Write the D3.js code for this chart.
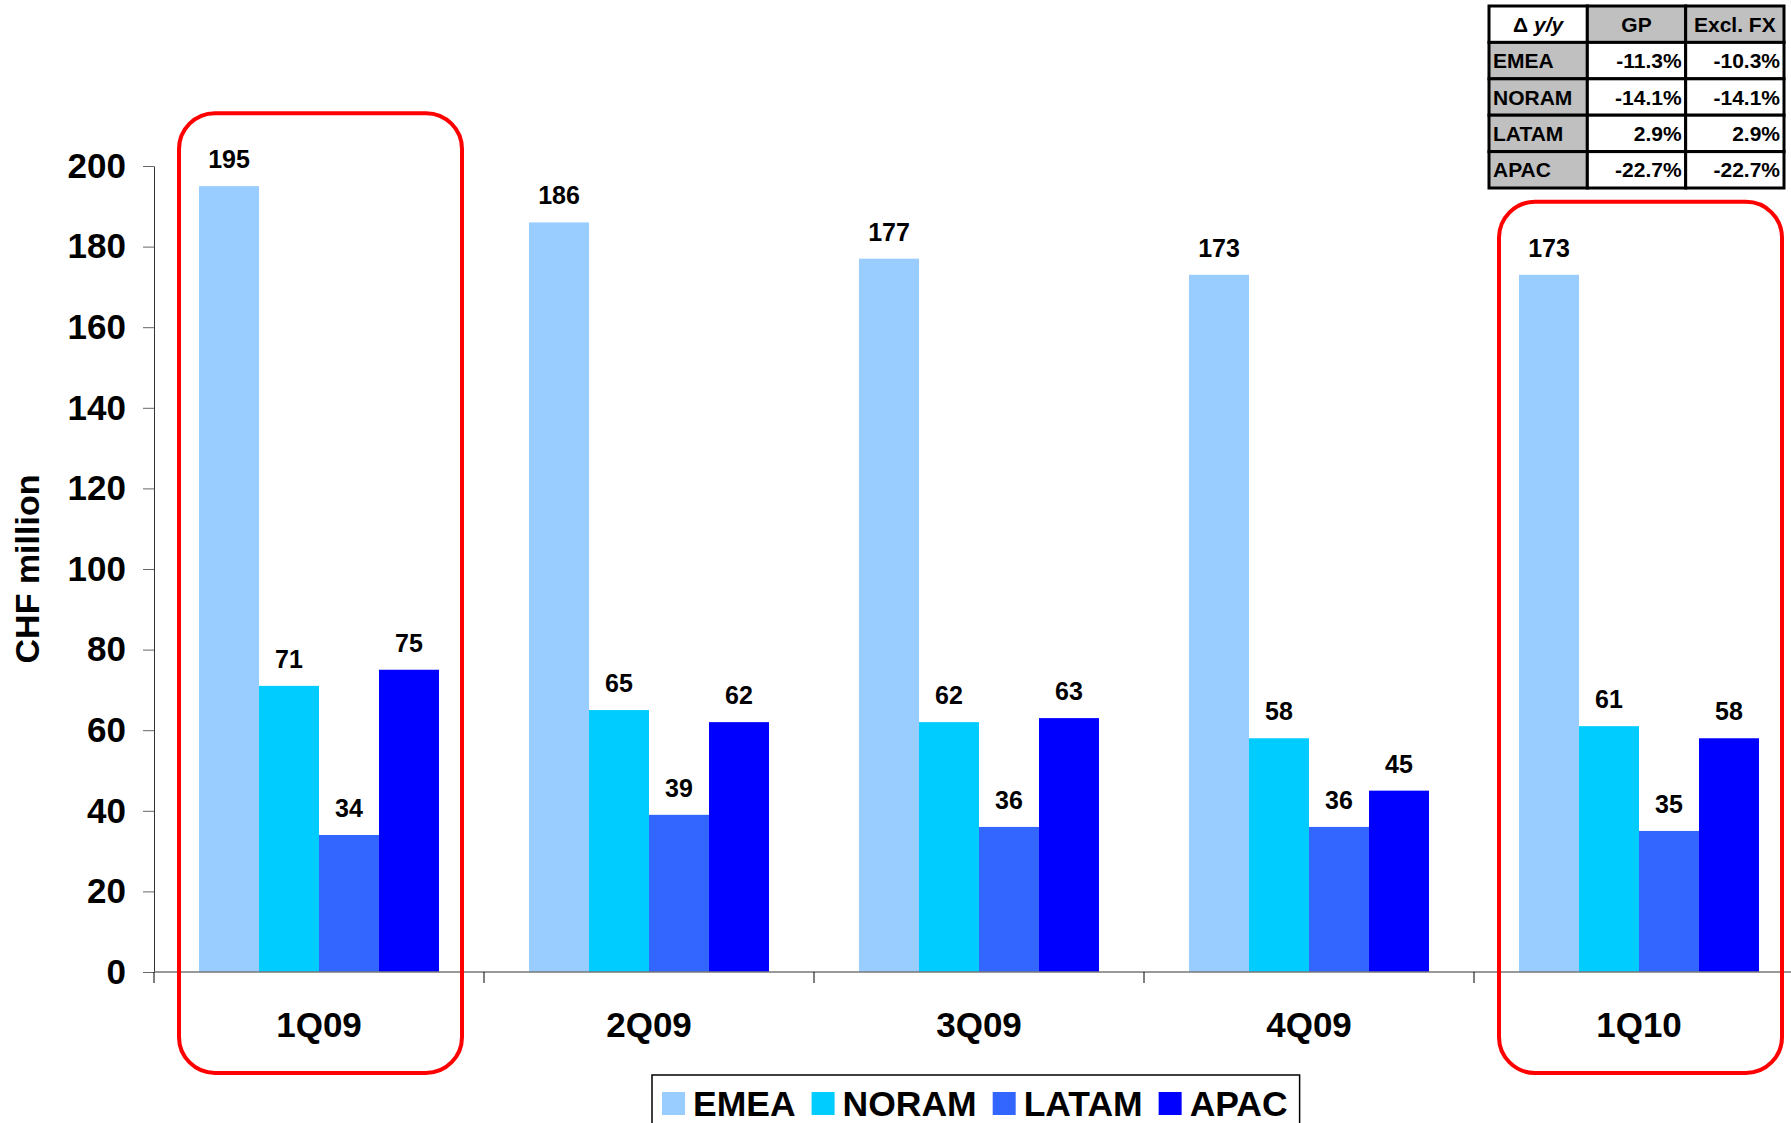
<!DOCTYPE html>
<html>
<head>
<meta charset="utf-8">
<script src="https://cdn.jsdelivr.net/npm/d3@7"></script>
<style>
  body { margin: 0; background: #fff; }
  svg { display: block; font-family: "Liberation Sans", Arial, sans-serif; font-weight: bold; }
</style>
</head>
<body>
<script>
// data
var quarters = ["1Q09", "2Q09", "3Q09", "4Q09", "1Q10"];
var regions = ["EMEA", "NORAM", "LATAM", "APAC"];
var emea  = [195, 186, 177, 173, 173];
var noram = [71, 65, 62, 58, 61];
var latam = [34, 39, 36, 36, 35];
var apac  = [75, 62, 63, 45, 58];
var yTicks = [0, 20, 40, 60, 80, 100, 120, 140, 160, 180, 200];
var highlighted = ["1Q09", "1Q10"];

// table of y/y changes
var tableHead = ["Δ", "GP", "Excl. FX"];
var gpChange = ["-11.3%", "-14.1%", "2.9%", "-22.7%"];
var exclFxChange = ["-10.3%", "-14.1%", "2.9%", "-22.7%"];

var colors = {EMEA: "#99ccff", NORAM: "#00ccff", LATAM: "#3366ff", APAC: "#0000ff"};
var seriesValues = {EMEA: emea, NORAM: noram, LATAM: latam, APAC: apac};

var W = 1791, H = 1123;
var svg = d3.select("body").append("svg")
    .attr("width", W)
    .attr("height", H);

// scales
var y = d3.scaleLinear().domain([0, 200]).range([972, 166]);
var x0 = d3.scaleBand().domain(quarters).range([154, 1804]).padding(0);
var x1 = d3.scaleBand().domain(regions).range([0, x0.bandwidth()])
    .paddingInner(0).paddingOuter(0.75);

var rows = quarters.map(function(q, i) {
  return {q: q, values: regions.map(function(r) { return {r: r, v: seriesValues[r][i]}; })};
});

// bars
var groups = svg.append("g").selectAll("g")
    .data(rows)
  .enter().append("g")
    .attr("transform", function(d) { return "translate(" + x0(d.q) + ",0)"; });

groups.selectAll("rect")
    .data(function(d) { return d.values; })
  .enter().append("rect")
    .attr("x", function(d) { return x1(d.r); })
    .attr("y", function(d) { return y(d.v); })
    .attr("width", x1.bandwidth())
    .attr("height", function(d) { return y(0) - y(d.v); })
    .attr("fill", function(d) { return colors[d.r]; });

groups.selectAll("text")
    .data(function(d) { return d.values; })
  .enter().append("text")
    .attr("x", function(d) { return x1(d.r) + x1.bandwidth() / 2; })
    .attr("y", function(d) { return y(d.v) - 18; })
    .attr("text-anchor", "middle")
    .attr("font-size", 25)
    .text(function(d) { return d.v; });

// y axis
var yAxis = svg.append("g")
    .attr("transform", "translate(154,0)")
    .call(d3.axisLeft(y).tickValues(yTicks).tickSize(11).tickPadding(17).tickSizeOuter(0));
yAxis.select(".domain").attr("stroke", "#333");
yAxis.selectAll(".tick line").attr("stroke", "#666");
yAxis.selectAll("text")
    .attr("font-size", 35)
    .attr("font-family", "Liberation Sans, Arial, sans-serif")
    .attr("font-weight", "bold")
    .attr("fill", "#000");

// x axis line and category separators
svg.append("line")
    .attr("x1", 154).attr("x2", W)
    .attr("y1", y(0)).attr("y2", y(0))
    .attr("stroke", "#777").attr("stroke-width", 1.5);

svg.append("g").selectAll("line")
    .data(quarters)
  .enter().append("line")
    .attr("x1", function(d) { return x0(d); })
    .attr("x2", function(d) { return x0(d); })
    .attr("y1", y(0)).attr("y2", y(0) + 11)
    .attr("stroke", "#000");

svg.append("g").selectAll("text")
    .data(quarters)
  .enter().append("text")
    .attr("x", function(d) { return x0(d) + x0.bandwidth() / 2; })
    .attr("y", 1037)
    .attr("text-anchor", "middle")
    .attr("font-size", 35)
    .text(function(d) { return d; });

// y axis title
svg.append("text")
    .attr("transform", "translate(39," + (y(100)) + ") rotate(-90)")
    .attr("text-anchor", "middle")
    .attr("font-size", 34)
    .text("CHF million");

// red highlight boxes
function boxTop(d) {
  var i = quarters.indexOf(d);
  return y(d3.max(regions, function(r) { return seriesValues[r][i]; })) - 73;
}
svg.append("g").selectAll("rect")
    .data(highlighted)
  .enter().append("rect")
    .attr("x", function(d) { return x0(d) + 25; })
    .attr("width", x0.bandwidth() - 47)
    .attr("y", boxTop)
    .attr("height", function(d) { return 1073 - boxTop(d); })
    .attr("rx", 36).attr("ry", 36)
    .attr("fill", "none")
    .attr("stroke", "#ff0000")
    .attr("stroke-width", 4);

// legend
var legendBox = svg.append("rect")
    .attr("x", 652).attr("y", 1075)
    .attr("height", 80)
    .attr("fill", "#fff")
    .attr("stroke", "#000")
    .attr("stroke-width", 1.5);

var legend = svg.append("g")
    .attr("transform", "translate(662,0)");
var lx = 0;
regions.forEach(function(r) {
  legend.append("rect")
      .attr("x", lx).attr("y", 1092)
      .attr("width", 23).attr("height", 23)
      .attr("fill", colors[r]);
  var t = legend.append("text")
      .attr("x", lx + 31).attr("y", 1116)
      .attr("font-size", 35.5)
      .text(r);
  lx += 31 + t.node().getComputedTextLength() + 16;
});
legendBox.attr("width", (lx - 16) + 22);

// table
var tx = d3.scaleBand().domain([0, 1, 2]).range([1489, 1784]);
var ty = d3.scaleBand().domain([0, 1, 2, 3, 4]).range([6, 188]);
var table = svg.append("g").attr("font-size", 21);

var cells = [];
tableHead.forEach(function(h, c) { cells.push({r: 0, c: c, text: h, fill: c === 0 ? "#fff" : "#c0c0c0", align: "middle"}); });
regions.forEach(function(reg, i) {
  cells.push({r: i + 1, c: 0, text: reg, fill: "#c0c0c0", align: "start"});
  cells.push({r: i + 1, c: 1, text: gpChange[i], fill: "#fff", align: "end"});
  cells.push({r: i + 1, c: 2, text: exclFxChange[i], fill: "#fff", align: "end"});
});

table.selectAll("rect")
    .data(cells)
  .enter().append("rect")
    .attr("x", function(d) { return tx(d.c); })
    .attr("y", function(d) { return ty(d.r); })
    .attr("width", tx.bandwidth())
    .attr("height", ty.bandwidth())
    .attr("fill", function(d) { return d.fill; })
    .attr("stroke", "#000")
    .attr("stroke-width", 3);

var cellText = table.selectAll("text")
    .data(cells)
  .enter().append("text")
    .attr("x", function(d) {
      if (d.align === "start") return tx(d.c) + 4;
      if (d.align === "end") return tx(d.c) + tx.bandwidth() - 4;
      return tx(d.c) + tx.bandwidth() / 2;
    })
    .attr("y", function(d) { return ty(d.r) + ty.bandwidth() / 2; })
    .attr("dy", "0.36em")
    .attr("text-anchor", function(d) { return d.align; })
    .text(function(d) { return d.text; });

cellText.filter(function(d) { return d.r === 0 && d.c === 0; })
  .append("tspan")
    .attr("font-style", "italic")
    .text(" y/y");
</script>
</body>
</html>
